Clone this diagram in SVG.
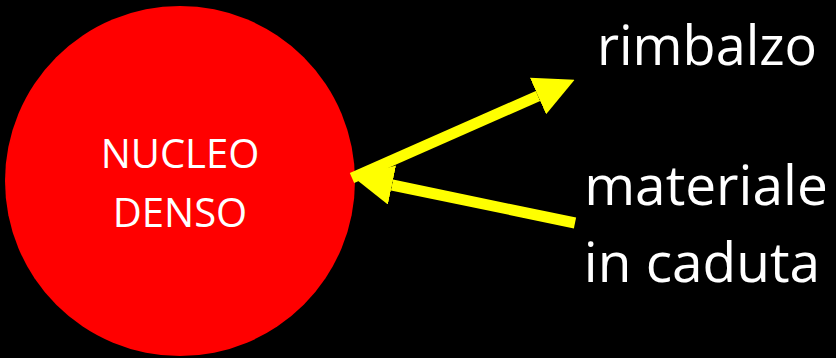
<svg xmlns="http://www.w3.org/2000/svg" width="836" height="358" viewBox="0 0 836 358">
<style>
.lbl{font-family:"Open Sans","Noto Sans",sans-serif;fill:#ffffff}
.conn{stroke:#ffff00;stroke-width:11;fill:none;marker-end:url(#ah)}
</style>
<defs>
<marker id="ah" markerUnits="userSpaceOnUse" markerWidth="40" markerHeight="40" viewBox="0 -20 40 40" refX="0" refY="0" orient="auto">
<path d="M0,-20 L40,0 L0,20 Z" fill="#ffff00"/>
</marker>
</defs>
<rect width="836" height="358" fill="#000000"/>
<g id="nucleo">
<circle cx="180" cy="181" r="175" fill="#ff0000"/>
<text class="lbl" x="180" y="168" font-size="40" text-anchor="middle">NUCLEO</text>
<text class="lbl" x="180" y="227" font-size="40" text-anchor="middle">DENSO</text>
</g>
<g id="rimbalzo">
<text class="lbl" x="707" y="65" font-size="54" text-anchor="middle">rimbalzo</text>
</g>
<g id="materiale">
<text class="lbl" x="706" y="205" font-size="55" text-anchor="middle">materiale</text>
<text class="lbl" x="702" y="282" font-size="55" text-anchor="middle">in caduta</text>
</g>
<g id="connectors">
<line class="conn" x1="352" y1="178" x2="538" y2="96"/>
<line class="conn" x1="575" y1="223" x2="392" y2="185"/>
</g>
</svg>
